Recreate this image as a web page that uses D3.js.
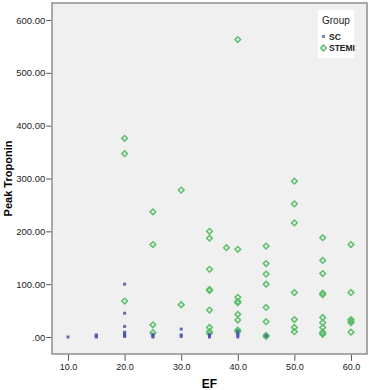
<!DOCTYPE html>
<html>
<head>
<meta charset="utf-8">
<script src="https://cdn.jsdelivr.net/npm/d3@7"></script>
<style>
  body { margin: 0; background: #fff; }
  svg { display: block; font-family: "Liberation Sans", Arial, sans-serif; }
</style>
</head>
<body>
<svg id="chart" width="369" height="390"></svg>
<script>
// SC group (blue squares)
var scEF   = [10, 15, 15, 15, 20, 20, 20, 20, 20, 20, 20, 25, 25, 25, 30, 30, 30, 35, 35, 35, 40, 40, 40, 40, 45];
var scTrop = [0, 0, 2, 4, 100, 45, 20, 9, 6, 3, 1, 5, 2, 0, 15, 4, 1, 5, 2, 0, 11, 6, 3, 0, 2];

// STEMI group (green diamonds)
var stemiEF = [20, 20, 20,
               25, 25, 25, 25,
               30, 30,
               35, 35, 35, 35, 35, 35, 35, 35, 35,
               38,
               40, 40, 40, 40, 40, 40, 40, 40, 40,
               45, 45, 45, 45, 45, 45, 45, 45,
               50, 50, 50, 50, 50, 50, 50,
               55, 55, 55, 55, 55, 55, 55, 55, 55, 55, 55,
               60, 60, 60, 60, 60, 60];
var stemiTrop = [376, 347, 68,
                 237, 175, 23, 8,
                 278, 61,
                 200, 187, 128, 90, 88, 51, 18, 10, 7,
                 169,
                 563, 166, 75, 67, 65, 43, 32, 13, 10,
                 172, 139, 119, 100, 56, 29, 3, 1,
                 295, 252, 216, 84, 33, 18, 10,
                 188, 145, 120, 83, 80, 37, 27, 18, 9, 7, 5,
                 175, 84, 33, 30, 27, 9];

var xTicks = [10, 20, 30, 40, 50, 60];
var yTicks = [0, 100, 200, 300, 400, 500, 600];
var groups = ["SC", "STEMI"];

(function () {
var svg = d3.select("#chart");
var pLeft = 52, pRight = 367, pTop = 3, pBottom = 354;

var x = d3.scaleLinear().domain([7.17, 62.83]).range([pLeft, pRight]);
var y = d3.scaleLinear().domain([-32.2, 632.2]).range([pBottom, pTop]);

// plot area
svg.append("rect")
    .attr("x", pLeft).attr("y", pTop)
    .attr("width", pRight - pLeft).attr("height", pBottom - pTop)
    .attr("fill", "#f0f0f0")
    .attr("stroke", "#8f8f8f")
    .attr("stroke-width", 1.5);

var yFmt = function (d) { return d === 0 ? ".00" : d3.format(".2f")(d); };

var yAxis = svg.append("g")
    .attr("transform", "translate(" + (pLeft - 0.75) + ",0)")
    .call(d3.axisLeft(y).tickValues(yTicks).tickFormat(yFmt).tickSize(5).tickSizeOuter(0));
yAxis.select(".domain").remove();

var xAxis = svg.append("g")
    .attr("transform", "translate(0," + (pBottom + 0.75) + ")")
    .call(d3.axisBottom(x).tickValues(xTicks).tickFormat(d3.format(".1f")).tickSize(6).tickSizeOuter(0));
xAxis.select(".domain").remove();

svg.selectAll(".tick line").attr("stroke", "#555").attr("stroke-width", 1);
svg.selectAll(".tick text").attr("font-size", 9).attr("fill", "#222")
    .attr("font-family", "Liberation Sans, Arial, sans-serif");
yAxis.selectAll(".tick text").attr("x", -6).attr("font-size", 9.5);
xAxis.selectAll(".tick text").attr("y", 9);

// axis titles
svg.append("text")
    .attr("x", (pLeft + pRight) / 2).attr("y", 388)
    .attr("text-anchor", "middle")
    .attr("font-size", 12).attr("font-weight", "bold")
    .text("EF");

svg.append("text")
    .attr("transform", "translate(12," + ((pTop + pBottom) / 2) + ") rotate(-90)")
    .attr("text-anchor", "middle")
    .attr("font-size", 11).attr("font-weight", "bold")
    .text("Peak Troponin");

var green = "#5cbf6a", blue = "#4653b0";
var diamond = d3.symbol().type(d3.symbolSquare).size(16);

var plot = svg.append("g");

plot.selectAll("path.stemi")
    .data(stemiTrop)
    .enter()
    .append("path")
    .attr("class", "stemi")
    .attr("d", diamond)
    .attr("transform", function (d, i) {
        return "translate(" + x(stemiEF[i]) + "," + y(d) + ") rotate(45)";
    })
    .attr("fill", "none")
    .attr("stroke", green)
    .attr("stroke-width", 1.5);

plot.selectAll("rect.sc")
    .data(scTrop)
    .enter()
    .append("rect")
    .attr("class", "sc")
    .attr("x", function (d, i) { return x(scEF[i]) - 1.5; })
    .attr("y", function (d) { return y(d) - 1.5; })
    .attr("width", 3).attr("height", 3)
    .attr("fill", blue)
    .attr("opacity", 0.85);

// legend
var lg = svg.append("g").attr("transform", "translate(318,10)");
lg.append("rect").attr("width", 36).attr("height", 48).attr("fill", "#fff");
lg.append("text").attr("x", 4).attr("y", 14).attr("font-size", 10).attr("fill", "#222").text("Group");
lg.append("rect").attr("x", 4).attr("y", 25).attr("width", 3).attr("height", 3).attr("fill", blue).attr("opacity", 0.7);
lg.append("path").attr("d", diamond).attr("transform", "translate(5.5,38) rotate(45)")
    .attr("fill", "none").attr("stroke", green).attr("stroke-width", 1.5);
lg.selectAll("text.item")
    .data(groups)
    .enter()
    .append("text")
    .attr("class", "item")
    .attr("x", 11)
    .attr("y", function (d, i) { return 30 + i * 11; })
    .attr("font-size", 8.5)
    .attr("font-weight", "bold")
    .attr("fill", "#222")
    .text(function (d) { return d; });
})();
</script>
</body>
</html>
